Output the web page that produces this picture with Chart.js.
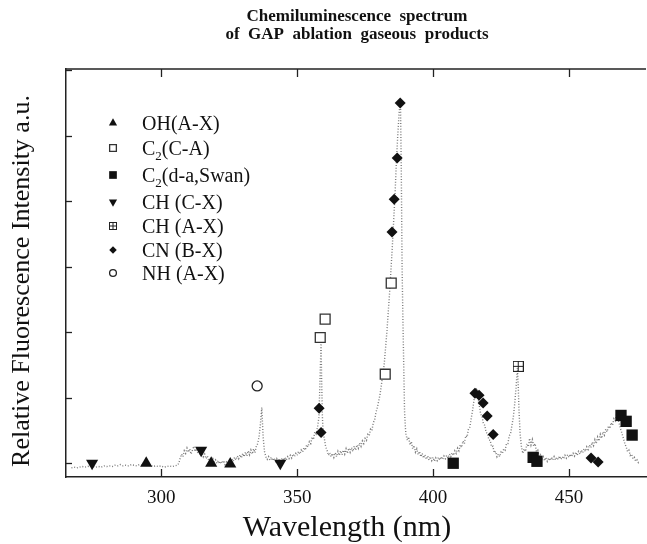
<!DOCTYPE html>
<html>
<head>
<meta charset="utf-8">
<script src="https://cdn.jsdelivr.net/npm/chart.js@4/dist/chart.umd.min.js"></script>
<style>
html,body{margin:0;padding:0;background:#fff;}
#wrap{width:647px;height:544px;position:relative;}
</style>
</head>
<body>
<div id="wrap"><canvas id="c" width="647" height="544"></canvas></div>
<script>
// ---------- data ----------
const xTicks = [300, 350, 400, 450];
const yTicks = [0, 1, 2, 3, 4, 5, 6];

// spectrum: [wavelength nm, relative intensity]
const spectrum = [
[267,-0.07],[268,-0.06],[269,-0.07],[270,-0.06],[271,-0.05],[272,-0.06],[273,-0.05],[274,-0.04],[275,-0.05],[276,-0.06],
[277,-0.05],[278,-0.06],[279,-0.04],[280,-0.05],[281,-0.04],[282,-0.05],[283,-0.03],[284,-0.04],[285,-0.02],[286,-0.04],
[287,-0.03],[288,-0.04],[289,-0.02],[290,-0.03],[291,-0.04],[292,-0.02],[293,-0.03],[294,-0.02],[295,-0.04],[296,-0.03],
[297,-0.05],[298,-0.04],[299,-0.05],[300,-0.04],[301,-0.06],[302,-0.05],[303,-0.04],[304,-0.05],[305,-0.04],[306,-0.03],
[306.5,0.0],[307,0.08],[307.5,0.14],[308,0.1],[308.5,0.19],[309,0.15],[309.5,0.23],[310,0.17],[310.5,0.22],[311,0.14],
[311.5,0.2],[312,0.26],[312.5,0.18],[313,0.22],[313.5,0.15],[314,0.2],[314.5,0.12],[315,0.18],[315.5,0.1],[316,0.14],
[316.5,0.07],[317,0.11],[317.5,0.04],[318,0.08],[318.5,0.03],[319,0.07],[319.5,0.02],[320,0.05],[320.5,0.0],[321,0.04],
[321.5,-0.01],[322,0.03],[322.5,0.0],[323,0.04],[323.5,-0.02],[324,0.02],[324.5,0.0],[325,0.04],[325.5,0.02],[326,0.07],
[326.5,0.03],[327,0.09],[327.5,0.05],[328,0.11],[328.5,0.07],[329,0.13],[329.5,0.08],[330,0.15],[330.5,0.1],[331,0.17],
[331.5,0.11],[332,0.19],[332.5,0.13],[333,0.2],[333.5,0.14],[334,0.22],[334.5,0.16],[335,0.26],[335.5,0.3],[336,0.4],
[336.5,0.6],[337,0.85],[337.5,0.4],[338,0.18],[338.5,0.1],[339,0.06],[339.5,0.1],[340,0.05],[340.5,0.09],[341,0.04],
[341.5,0.08],[342,0.03],[342.5,0.07],[343,0.02],[343.5,0.06],[344,0.03],[344.5,0.08],[345,0.04],[345.5,0.09],[346,0.05],
[346.5,0.1],[347,0.07],[347.5,0.12],[348,0.08],[348.5,0.14],[349,0.1],[349.5,0.15],[350,0.12],[350.5,0.18],[351,0.14],
[351.5,0.2],[352,0.17],[352.5,0.24],[353,0.2],[353.5,0.28],[354,0.25],[354.5,0.33],[355,0.3],[355.5,0.4],[356,0.36],
[356.5,0.48],[357,0.45],[357.5,0.55],[358,0.7],[358.3,1.1],[358.6,1.55],[358.8,1.85],[359,1.3],[359.3,0.7],[359.6,0.45],
[360,0.38],[360.5,0.25],[361,0.2],[361.5,0.12],[362,0.16],[362.5,0.1],[363,0.15],[363.5,0.09],[364,0.16],[364.5,0.1],
[365,0.18],[365.5,0.12],[366,0.19],[366.5,0.13],[367,0.2],[367.5,0.14],[368,0.22],[368.5,0.15],[369,0.23],[369.5,0.17],
[370,0.24],[370.5,0.18],[371,0.26],[371.5,0.2],[372,0.28],[372.5,0.23],[373,0.31],[373.5,0.26],[374,0.34],[374.5,0.3],
[375,0.38],[375.5,0.35],[376,0.44],[376.5,0.42],[377,0.52],[377.5,0.5],[378,0.62],[378.5,0.66],[379,0.78],[379.5,0.85],
[380,0.95],[380.5,1.05],[381,1.2],[381.5,1.35],[382,1.5],[382.5,1.75],[383,2.0],[383.5,2.3],[384,2.6],[384.5,2.95],
[385,3.3],[385.5,3.7],[386,4.1],[386.5,4.6],[387,5.0],[387.5,5.35],[388,5.55],[388.3,4.5],[388.6,3.0],[388.9,2.2],
[389.2,1.5],[389.5,0.8],[389.8,0.55],[390,0.45],[390.5,0.35],[391,0.4],[391.5,0.28],[392,0.33],[392.5,0.22],[393,0.27],
[393.5,0.17],[394,0.22],[394.5,0.13],[395,0.18],[395.5,0.1],[396,0.15],[396.5,0.08],[397,0.13],[397.5,0.06],[398,0.11],
[398.5,0.05],[399,0.1],[399.5,0.04],[400,0.09],[400.5,0.03],[401,0.08],[401.5,0.04],[402,0.09],[402.5,0.05],[403,0.1],
[403.5,0.06],[404,0.11],[404.5,0.07],[405,0.12],[405.5,0.08],[406,0.14],[406.5,0.1],[407,0.16],[407.5,0.12],[408,0.19],
[408.5,0.15],[409,0.23],[409.5,0.19],[410,0.28],[410.5,0.24],[411,0.34],[411.5,0.3],[412,0.42],[412.5,0.4],[413,0.52],
[413.5,0.55],[414,0.68],[414.5,0.8],[415,0.95],[415.5,1.1],[416,1.15],[416.5,1.0],[417,0.88],[417.5,0.75],[418,0.72],
[418.5,0.6],[419,0.58],[419.5,0.47],[420,0.46],[420.5,0.36],[421,0.35],[421.5,0.25],[422,0.26],[422.5,0.16],[423,0.18],
[423.5,0.1],[424,0.14],[424.5,0.1],[425,0.17],[425.5,0.15],[426,0.22],[426.5,0.2],[427,0.3],[427.5,0.3],[428,0.42],
[428.5,0.45],[429,0.58],[429.5,0.7],[430,0.9],[430.5,1.15],[431,1.45],[431.3,1.2],[431.6,0.8],[432,0.45],[432.5,0.25],
[433,0.15],[433.5,0.22],[434,0.18],[434.5,0.3],[435,0.25],[435.5,0.38],[436,0.28],[436.5,0.36],[437,0.26],[437.5,0.3],
[438,0.18],[438.5,0.2],[439,0.1],[439.5,0.13],[440,0.06],[440.5,0.1],[441,0.04],[441.5,0.09],[442,0.03],[442.5,0.08],
[443,0.04],[443.5,0.09],[444,0.05],[444.5,0.1],[445,0.05],[445.5,0.09],[446,0.06],[446.5,0.11],[447,0.06],[447.5,0.1],
[448,0.07],[448.5,0.12],[449,0.08],[449.5,0.13],[450,0.09],[450.5,0.14],[451,0.1],[451.5,0.15],[452,0.11],[452.5,0.17],
[453,0.12],[453.5,0.18],[454,0.14],[454.5,0.2],[455,0.16],[455.5,0.22],[456,0.18],[456.5,0.25],[457,0.21],[457.5,0.28],
[458,0.24],[458.5,0.32],[459,0.27],[459.5,0.36],[460,0.3],[460.5,0.4],[461,0.34],[461.5,0.44],[462,0.38],[462.5,0.48],
[463,0.43],[463.5,0.52],[464,0.48],[464.5,0.57],[465,0.53],[465.5,0.62],[466,0.58],[466.5,0.68],[467,0.65],[467.5,0.75],
[468,0.68],[468.5,0.6],[469,0.52],[469.5,0.45],[470,0.38],[470.5,0.3],[471,0.25],[471.5,0.18],[472,0.2],[472.5,0.12],
[473,0.14],[473.5,0.07],[474,0.09],[474.5,0.03],[475,0.05],[475.5,0.01],[476,0.03]
];

const ohX = [294.5, 318.4, 325.4];
const ohY = [0.0, 0.0, -0.01];
const c2caX = [358.5, 360.3, 382.4, 384.6];
const c2caY = [1.92, 2.2, 1.36, 2.75];
const c2swanX = [407.4, 436.8, 438.2, 469.1, 471.0, 473.2];
const c2swanY = [0.0, 0.09, 0.03, 0.73, 0.64, 0.43];
const chcxX = [274.6, 314.7, 343.8];
const chcxY = [0.0, 0.2, 0.0];
const chaxX = [431.3];
const chaxY = [1.48];
const cnX = [358.1, 358.8, 384.9, 385.7, 386.8, 387.9, 415.4, 416.9, 418.4, 419.9, 422.1, 458.1, 460.7];
const cnY = [0.84, 0.47, 3.53, 4.03, 4.66, 5.5, 1.07, 1.04, 0.92, 0.72, 0.44, 0.08, 0.02];
const nhX = [335.3];
const nhY = [1.18];

const titleLines = ["Chemiluminescence  spectrum", "of  GAP  ablation  gaseous  products"];
const xTitle = "Wavelength (nm)";
const yTitle = "Relative Fluorescence Intensity a.u.";

// ---------- helpers ----------
function pts(xs, ys){ return xs.map((x,i)=>({x:x, y:ys[i]})); }

function boxPlus(size){
  const c = document.createElement('canvas');
  c.width = size; c.height = size;
  const g = c.getContext('2d');
  g.strokeStyle = '#222'; g.lineWidth = 1;
  g.strokeRect(0.5, 0.5, size-1, size-1);
  g.beginPath();
  g.moveTo(size/2, 0.5); g.lineTo(size/2, size-0.5);
  g.moveTo(0.5, size/2); g.lineTo(size-0.5, size/2);
  g.stroke();
  return c;
}
const boxPlusBig = boxPlus(11);
const boxPlusSmall = boxPlus(8);

const INK = '#111';
const SERIF = '"Liberation Serif", "DejaVu Serif", serif';

const datasets = [
  {label:'OH(A-X)', data:pts(ohX,ohY), pointStyle:'triangle', pointRadius:7, backgroundColor:INK, borderColor:INK, borderWidth:0},
  {label:'C2(C-A)', data:pts(c2caX,c2caY), pointStyle:'rect', pointRadius:7, backgroundColor:'#fff', borderColor:'#333', borderWidth:1.3},
  {label:'C2(d-a,Swan)', data:pts(c2swanX,c2swanY), pointStyle:'rect', pointRadius:8, backgroundColor:INK, borderColor:INK, borderWidth:0},
  {label:'CH (C-X)', data:pts(chcxX,chcxY), pointStyle:'triangle', rotation:180, pointRadius:7, backgroundColor:INK, borderColor:INK, borderWidth:0},
  {label:'CH (A-X)', data:pts(chaxX,chaxY), pointStyle:boxPlusBig, pointRadius:6, backgroundColor:'#fff', borderColor:'#222', borderWidth:1},
  {label:'CN (B-X)', data:pts(cnX,cnY), pointStyle:'rectRot', pointRadius:5.5, backgroundColor:INK, borderColor:INK, borderWidth:0},
  {label:'NH (A-X)', data:pts(nhX,nhY), pointStyle:'circle', pointRadius:5, backgroundColor:'rgba(255,255,255,0)', borderColor:'#222', borderWidth:1.3},
  {label:'spectrum', data:spectrum.map(p=>({x:p[0], y:p[1]})), showLine:true,
   borderColor:'rgba(80,80,80,0.75)', borderWidth:1.4, borderDash:[1,1.8],
   pointRadius:0, order:10, tension:0}
];

// legend rows (style/layout only)
const legendRows = [
  {ds:0, y:123, parts:[['OH(A-X)',0]]},
  {ds:1, y:148, parts:[['C',0],['2',1],['(C-A)',0]]},
  {ds:2, y:175, parts:[['C',0],['2',1],['(d-a,Swan)',0]]},
  {ds:3, y:202, parts:[['CH (C-X)',0]]},
  {ds:4, y:226, parts:[['CH (A-X)',0]]},
  {ds:5, y:250, parts:[['CN (B-X)',0]]},
  {ds:6, y:273, parts:[['NH (A-X)',0]]}
];

const framePlugin = {
  id:'frame',
  afterDatasetsDraw(chart){
    const ctx = chart.ctx, a = chart.chartArea;
    const xs = chart.scales.x, ys = chart.scales.y;
    ctx.save();
    ctx.strokeStyle = '#222';
    ctx.lineWidth = 1.5;
    ctx.beginPath(); ctx.moveTo(a.left, a.top); ctx.lineTo(a.right, a.top); ctx.stroke();
    ctx.lineWidth = 1.3;
    xTicks.forEach(v=>{
      const px = Math.round(xs.getPixelForValue(v))+0.5;
      ctx.beginPath(); ctx.moveTo(px, a.bottom); ctx.lineTo(px, a.bottom-8); ctx.stroke();
      ctx.beginPath(); ctx.moveTo(px, a.top); ctx.lineTo(px, a.top+8); ctx.stroke();
    });
    yTicks.forEach(v=>{
      const py = Math.round(ys.getPixelForValue(v))+0.5;
      ctx.beginPath(); ctx.moveTo(a.left, py); ctx.lineTo(a.left+6, py); ctx.stroke();
    });
    legendRows.forEach(r=>{
      const ds = chart.data.datasets[r.ds];
      ctx.fillStyle = ds.backgroundColor;
      ctx.strokeStyle = ds.borderColor;
      ctx.lineWidth = ds.borderWidth || 1;
      let ps = ds.pointStyle;
      if (ps === boxPlusBig) ps = boxPlusSmall;
      Chart.helpers.drawPoint(ctx, {pointStyle:ps, rotation:ds.rotation||0, radius:ds.pointRadius*0.68, borderWidth:ds.borderWidth||0}, 113, r.y);
      let x = 142;
      ctx.fillStyle = INK;
      ctx.textBaseline = 'alphabetic';
      r.parts.forEach(p=>{
        ctx.font = p[1] ? '13px '+SERIF : '20px '+SERIF;
        const yy = r.y + 7 + (p[1] ? 5 : 0);
        ctx.fillText(p[0], x, yy);
        x += ctx.measureText(p[0]).width;
      });
    });
    // chart title
    ctx.fillStyle = INK;
    ctx.textAlign = 'center';
    ctx.textBaseline = 'alphabetic';
    ctx.font = 'bold 17px '+SERIF;
    ctx.fillText(titleLines[0], 357, 21);
    ctx.fillText(titleLines[1], 357, 39);
    // x axis title
    ctx.font = '30px '+SERIF;
    ctx.fillText(xTitle, 347, 536);
    // y axis title
    ctx.save();
    ctx.translate(29, 281);
    ctx.rotate(-Math.PI/2);
    ctx.font = '26px '+SERIF;
    ctx.textAlign = 'center';
    ctx.fillText(yTitle, 0, 0);
    ctx.restore();
    ctx.restore();
  }
};

new Chart(document.getElementById('c'), {
  type:'scatter',
  data:{datasets:datasets},
  options:{
    responsive:false,
    animation:false,
    layout:{autoPadding:false, padding:{top:69, right:1, left:0, bottom:0}},
    plugins:{legend:{display:false}, tooltip:{enabled:false}, title:{display:false}},
    scales:{
      x:{
        type:'linear', min:265, max:478.3,
        afterBuildTicks(s){ s.ticks = xTicks.map(v=>({value:v})); },
        afterFit(s){ s.height = 67; s.paddingLeft = 0; s.paddingRight = 0; },
        grid:{display:false, drawTicks:false},
        border:{display:true, color:'#222', width:1.5},
        ticks:{color:INK, font:{family:SERIF, size:19}, padding:10, maxRotation:0},
        title:{display:false}
      },
      y:{
        type:'linear', min:-0.21, max:6.02,
        afterBuildTicks(s){ s.ticks = yTicks.map(v=>({value:v})); },
        afterFit(s){ s.width = 66; s.paddingTop = 0; s.paddingBottom = 0; },
        grid:{display:false, drawTicks:false},
        border:{display:true, color:'#222', width:1.5},
        ticks:{display:false},
        title:{display:false}
      }
    }
  },
  plugins:[framePlugin]
});
</script>
</body>
</html>
